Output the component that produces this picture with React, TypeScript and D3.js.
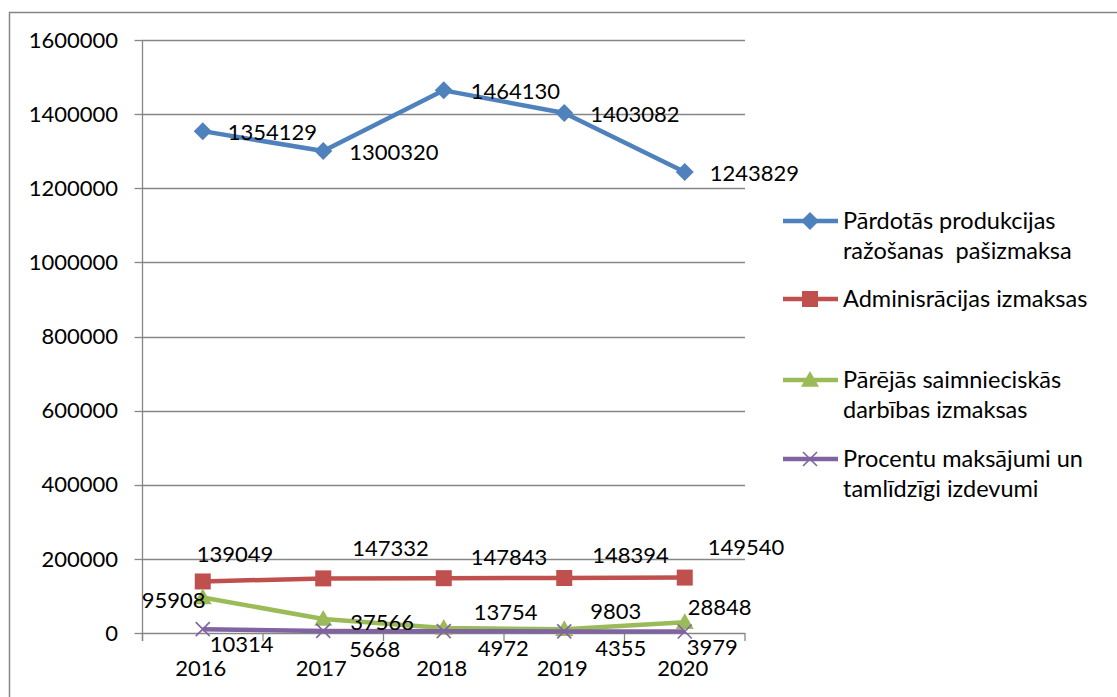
import React from "react";
import * as d3 from "d3";

const years = ["2016", "2017", "2018", "2019", "2020"];
const seriesNames = [
  ["Pārdotās produkcijas", "ražošanas  pašizmaksa"],
  ["Adminisrācijas izmaksas"],
  ["Pārējās saimnieciskās", "darbības izmaksas"],
  ["Procentu maksājumi un", "tamlīdzīgi izdevumi"],
];
const costOfSales = [1354129, 1300320, 1464130, 1403082, 1243829];
const adminCosts = [139049, 147332, 147843, 148394, 149540];
const otherCosts = [95908, 37566, 13754, 9803, 28848];
const interest = [10314, 5668, 4972, 4355, 3979];
const yTicks = [0, 200000, 400000, 600000, 800000, 1000000, 1200000, 1400000, 1600000];

const colors = ["#4F81BD", "#C0504D", "#9BBB59", "#8064A2"];
const markers = ["diamond", "square", "triangle", "x"];
// label offsets relative to the point (dx, dy)
const labelOffsets = [
  [[25, 1], [26, 1], [27, 1], [26, 1.5], [25, 1]],
  [[-6, -27], [29, -30], [27, -21], [28, -23], [23, -30]],
  [[-61, 3], [27, 3], [30, -16], [26, -18], [3, -15]],
  [[7, 15], [26, 18], [34, 17], [31, 17], [2, 16]],
];
const legendY = [221, 299, 380, 459];

const FONT = "Lato, 'Open Sans', sans-serif";

function Marker({ type, x, y, color }: { type: string; x: number; y: number; color: string }) {
  if (type === "diamond") {
    const r = 9;
    return <path d={`M${x},${y - r}L${x + r},${y}L${x},${y + r}L${x - r},${y}Z`} fill={color} />;
  }
  if (type === "square") {
    const s = 8;
    return <rect x={x - s} y={y - s} width={2 * s} height={2 * s} fill={color} />;
  }
  if (type === "triangle") {
    const s = 9;
    return <path d={`M${x},${y - s}L${x + s},${y + s * 0.75}L${x - s},${y + s * 0.75}Z`} fill={color} />;
  }
  const s = 7;
  return (
    <path
      d={`M${x - s},${y - s}L${x + s},${y + s}M${x - s},${y + s}L${x + s},${y - s}`}
      stroke={color}
      strokeWidth={1.6}
      fill="none"
    />
  );
}

export default function App() {
  const W = 1117;
  const H = 697;
  const left = 142.5;
  const right = 745;
  const top = 40;
  const bottom = 633;
  const x = d3.scaleBand<string>().domain(years).range([left, right]);
  const y = d3.scaleLinear().domain([0, 1600000]).range([bottom, top]);
  const data = [costOfSales, adminCosts, otherCosts, interest];
  const line = d3
    .line<number>()
    .x((_, i) => (x(years[i]) as number) + x.bandwidth() / 2)
    .y((d) => y(d));
  const grid = "#868686";
  const boundaries = years.map((yr) => x(yr) as number).concat([right]);

  return (
    <svg
      width={W}
      height={H}
      style={{ position: "absolute", left: 0, top: 0, background: "#fff" }}
      fontFamily={FONT}
    >
      <rect x={9.5} y={12.5} width={1200} height={800} fill="none" stroke={grid} strokeWidth={1.5} />
      {yTicks.map((t) => (
        <g key={t}>
          {t > 0 && (
            <line x1={left} x2={right} y1={Math.round(y(t)) + 0.5} y2={Math.round(y(t)) + 0.5} stroke={grid} strokeWidth={1.3} />
          )}
          <line x1={left - 8} x2={left} y1={Math.round(y(t)) + 0.5} y2={Math.round(y(t)) + 0.5} stroke={grid} strokeWidth={1.3} />
          <text x={118} y={y(t)} dy="0.35em" textAnchor="end" fontSize={22} fill="#000">
            {t}
          </text>
        </g>
      ))}
      <line x1={left} x2={left} y1={top} y2={bottom + 8} stroke={grid} strokeWidth={1.3} />
      <line x1={left} x2={right} y1={Math.round(y(0)) + 0.5} y2={Math.round(y(0)) + 0.5} stroke={grid} strokeWidth={1.3} />
      {boundaries.map((b, i) => (
        <line key={i} x1={b} x2={b} y1={bottom} y2={bottom + 8} stroke={grid} strokeWidth={1.3} />
      ))}
      {years.map((yr) => (
        <text
          key={yr}
          x={(x(yr) as number) + x.bandwidth() / 2 - 2}
          y={668}
          dy="0.35em"
          textAnchor="middle"
          fontSize={22}
          fill="#000"
        >
          {yr}
        </text>
      ))}
      {data.map((series, si) => (
        <g key={si}>
          <path d={line(series) || ""} fill="none" stroke={colors[si]} strokeWidth={4.5} strokeLinejoin="round" />
          {series.map((v, i) => (
            <Marker
              key={i}
              type={markers[si]}
              x={(x(years[i]) as number) + x.bandwidth() / 2}
              y={y(v)}
              color={colors[si]}
            />
          ))}
        </g>
      ))}
      {data.map((series, si) => (
        <g key={"l" + si}>
          {series.map((v, i) => (
            <text
              key={i}
              x={(x(years[i]) as number) + x.bandwidth() / 2 + labelOffsets[si][i][0]}
              y={y(v) + labelOffsets[si][i][1]}
              dy="0.35em"
              fontSize={22}
              fill="#000"
            >
              {v}
            </text>
          ))}
        </g>
      ))}
      {seriesNames.map((names, si) => (
        <g key={"lg" + si}>
          <line x1={783} x2={838} y1={legendY[si]} y2={legendY[si]} stroke={colors[si]} strokeWidth={4.5} />
          <Marker type={markers[si]} x={810} y={legendY[si]} color={colors[si]} />
          {names.map((n, j) => (
            <text key={j} x={843} y={legendY[si] + j * 30} dy="0.35em" fontSize={23.5} fill="#000" style={{ whiteSpace: "pre" }}>
              {n}
            </text>
          ))}
        </g>
      ))}
    </svg>
  );
}
